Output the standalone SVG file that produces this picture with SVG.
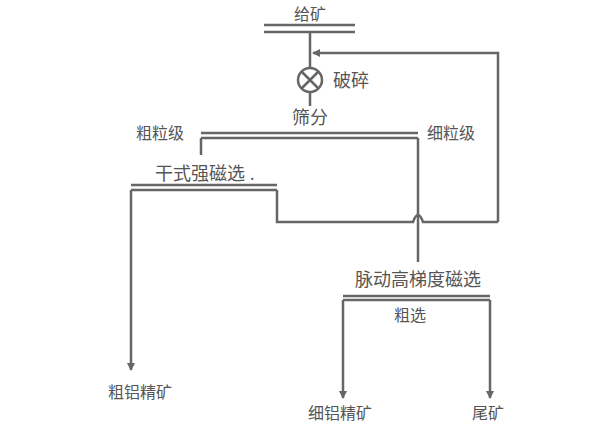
<svg xmlns="http://www.w3.org/2000/svg" width="600" height="429" viewBox="0 0 600 429">
<style>
text{font-family:"Noto Sans CJK SC","Noto Sans",sans-serif;font-size:18px;fill:#555}
.s{font-size:16px}
.l{stroke:#666;stroke-width:2.5;fill:none}
</style>
<defs><marker id="a" markerWidth="8" markerHeight="8" refX="7" refY="4" orient="auto" markerUnits="userSpaceOnUse"><path d="M0,0L8,4L0,8z" fill="#666"/></marker></defs>
<rect width="600" height="429" fill="#fff"/>
<g id="feed"><text class="s" x="310" y="20" text-anchor="middle">给矿</text><path class="l" d="M264,25H355M264,32H355"/></g>
<g id="crush"><circle class="l" cx="310" cy="80" r="12"/><path class="l" d="M302,72L318,88M318,72L302,88"/><text x="333" y="87">破碎</text></g>
<g id="screen"><text x="310" y="124" text-anchor="middle">筛分</text><path class="l" d="M201,133H418M201,138H418"/><text class="s" x="136" y="139">粗粒级</text><text class="s" x="427" y="139">细粒级</text></g>
<g id="dry"><text x="155" y="180">干式强磁选</text><text x="250" y="180" class="s">.</text><path class="l" d="M131,185H277M131,190H277"/></g>
<g id="pulse"><text x="418" y="286" text-anchor="middle">脉动高梯度磁选</text><path class="l" d="M343,296H490M343,300H490"/><text class="s" x="410" y="321" text-anchor="middle">粗选</text></g>
<g id="out"><text class="s" x="140" y="398" text-anchor="middle">粗铝精矿</text><text class="s" x="340" y="419" text-anchor="middle">细铝精矿</text><text class="s" x="488" y="419" text-anchor="middle">尾矿</text></g>
<g id="connectors">
<path class="l" d="M310,32V68M310,92V106"/>
<path class="l" d="M498,222V53H313" marker-end="url(#a)"/>
<path class="l" d="M277,190V222H413Q418,208 423,222H498"/>
<path class="l" d="M201,138V155"/>
<path class="l" d="M418,138V262"/>
<path class="l" d="M131,190V370" marker-end="url(#a)"/>
<path class="l" d="M343,300V398" marker-end="url(#a)"/>
<path class="l" d="M490,300V398" marker-end="url(#a)"/>
</g>
</svg>
